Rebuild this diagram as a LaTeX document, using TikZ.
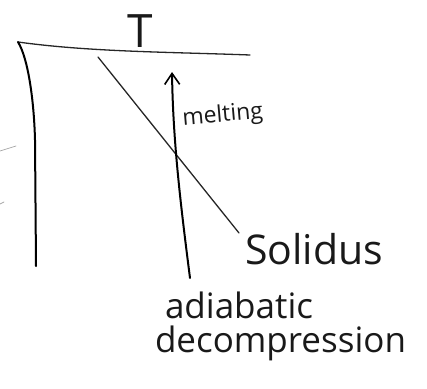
\documentclass[tikz,border=0pt]{standalone}
\usepackage{fontspec}
\setmainfont{Open Sans}
\usetikzlibrary{arrows.meta}
\tikzset{
  pen/.style={draw=black!85, line width=1.3pt, line cap=round, line join=round},
  thickpen/.style={draw=black, line width=2pt, line cap=round, line join=round},
  faint/.style={draw=black!35, line width=0.7pt, line cap=round},
  hand/.style={inner sep=0pt, outer sep=0pt, text=black!90, font=\fontsize{35}{37}\selectfont},
}
\begin{document}
\begin{tikzpicture}[x=1pt,y=-1pt]
\useasboundingbox (0,0) rectangle (427,388);
% coordinates
\coordinate (axL) at (18,42);
\coordinate (axR) at (250,55);
\coordinate (leftEnd) at (36,266);
\coordinate (solTop) at (98,57);
\coordinate (solEnd) at (239,233);
\coordinate (arrTip) at (172,72);
\coordinate (arrFoot) at (190,278);
\coordinate (s1a) at (0,151);
\coordinate (s1b) at (16,146);
\coordinate (s2a) at (0,204);
\coordinate (s2b) at (4,202);
% axis
\draw[pen] (axL) .. controls (90,52) and (170,52) .. (axR);
% left curve
\draw[thickpen] (axL) .. controls (28,58) and (34,100) .. (35,140) -- (leftEnd);
% solidus
\draw[pen] (solTop) -- (solEnd);
% adiabatic decompression arrow
\draw[thickpen, -{Straight Barb[length=11pt,width=15pt,line width=1.6pt]}] (arrFoot) .. controls (180,200) and (173,140) .. (arrTip);
% stray marks
\draw[faint] (s1a) -- (s1b);
\draw[faint] (s2a) -- (s2b);
% labels
\node[hand, font=\fontsize{46}{48}\selectfont, anchor=base] (T) at (140,47) {T};
\node[hand, font=\fontsize{23}{25}\selectfont, anchor=base west, rotate=5] (melt) at (183,125) {melting};
\node[hand, font=\fontsize{41}{43}\selectfont, anchor=base west] (sol) at (245,264) {Solidus};
\node[hand, anchor=base west] (adia) at (165,318) {adiabatic};
\node[hand, anchor=base west] (decomp) at (155,352) {decompression};
\end{tikzpicture}
\end{document}
